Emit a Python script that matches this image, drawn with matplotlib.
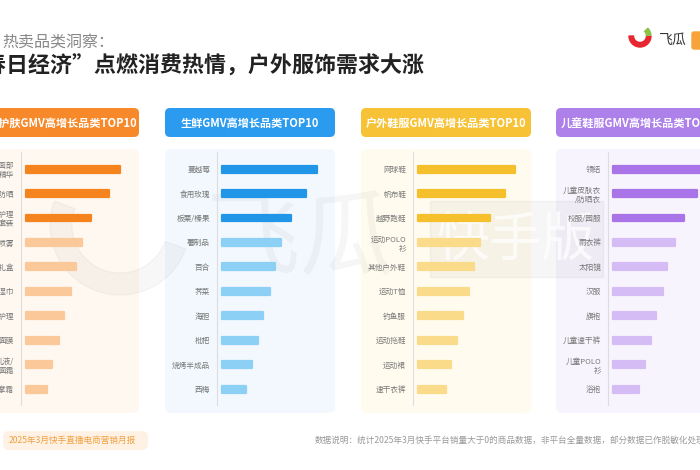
import matplotlib
matplotlib.use("Agg")
import matplotlib.pyplot as plt
from matplotlib.patches import FancyBboxPatch, Rectangle, Wedge

plt.rcParams['font.family'] = ['Noto Sans CJK SC', 'DejaVu Sans']

# ---- data (bar lengths, relative units) ----
beauty_labels = ["男士面部\n精华", "男士防晒", "面部护理\n套装", "防晒喷雾", "套装/礼盒",
                 "卸妆湿巾", "颈部护理", "面膜", "乳液/\n面霜", "按摩霜"]
beauty_values = [94, 83, 65, 56, 50, 45, 38, 33, 26, 21]

fresh_labels = ["蔓越莓", "食用玫瑰", "板栗/榛果", "薯制品", "百合",
                "荠菜", "海胆", "枇杷", "烧烤半成品", "西梅"]
fresh_values = [95, 84, 69, 59, 53, 48, 41, 36, 30, 24]

outdoor_labels = ["网球鞋", "帆布鞋", "越野跑鞋", "运动POLO\n衫", "其他户外鞋",
                  "运动T恤", "钓鱼服", "运动拖鞋", "运动裙", "速干衣裤"]
outdoor_values = [97, 87, 72, 62, 56, 51, 45, 39, 33, 28]

kids_labels = ["领结", "儿童皮肤衣\n/防晒衣", "校服/园服", "雨衣裤", "太阳镜",
               "汉服", "旗袍", "儿童速干裤", "儿童POLO\n衫", "浴袍"]
kids_values = [96, 84, 71, 62, 54, 50, 43, 38, 32, 26]

panel_titles = ["男士护肤GMV高增长品类TOP10", "生鲜GMV高增长品类TOP10",
                "户外鞋服GMV高增长品类TOP10", "儿童鞋服GMV高增长品类TOP10"]

W, H = 700, 470
fig = plt.figure(figsize=(7, 4.7), dpi=100)
fig.patch.set_facecolor("white")

# background layer in pixel coordinates
bg = fig.add_axes([0, 0, 1, 1], zorder=0)
bg.set_xlim(0, W)
bg.set_ylim(H, 0)
bg.axis("off")

panels = [
    (21, beauty_labels, beauty_values, "#F7892B", "#F5841F", "#FBC89A", "#FFF8F1"),
    (217, fresh_labels, fresh_values, "#2A9BEF", "#2196E8", "#8DD0F6", "#F2F8FE"),
    (413, outdoor_labels, outdoor_values, "#F7C236", "#F5C02C", "#FADB8A", "#FFFBEF"),
    (608, kids_labels, kids_values, "#AE80EA", "#A874E8", "#D5BCF4", "#F8F4FE"),
]

# titles
fig.text(2 / W, 1 - 42 / H, "热卖品类洞察：", fontsize=11.5, color="#888888",
         va="center", ha="left")
fig.text(425 / W, 1 - 66 / H, "“春日经济”点燃消费热情，户外服饰需求大涨", fontsize=15.8,
         fontweight="bold", color="#222222", va="center", ha="right")

# logo top right
bg.add_patch(Wedge((640, 36), 11, 0, 180, width=4.5, color="#E8262F"))
bg.add_patch(Wedge((640, 36), 11, -45, -5, width=4.5, color="#8BC34A"))
bg.text(658, 40, "飞瓜", fontsize=10, color="#333333", va="center", ha="left")
bg.add_patch(FancyBboxPatch((692, 32), 14, 17, boxstyle="round,pad=0,rounding_size=2",
                            color="#F7A23B"))

for i, (ax_x, labels, values, head_c, dark_c, light_c, card_c) in enumerate(panels):
    left = ax_x - 52
    # header
    bg.add_patch(FancyBboxPatch((left, 108), 170, 29,
                                boxstyle="round,pad=0,rounding_size=5",
                                facecolor=head_c, edgecolor="none"))
    # card
    bg.add_patch(FancyBboxPatch((left, 149), 170, 264,
                                boxstyle="round,pad=0,rounding_size=6",
                                facecolor=card_c, edgecolor="none"))
    shift = 3 if i == 0 else 0
    bg.text(left + 85 + shift, 123, panel_titles[i], fontsize=8, fontweight="bold",
            color="white", ha="center", va="center")

# watermark, between the cards and the bars
wm = fig.add_axes([0, 0, 1, 1], zorder=0.5)
wm.set_xlim(0, W)
wm.set_ylim(H, 0)
wm.axis("off")
wm.set_facecolor("none")
wm.add_patch(Wedge((120, 225), 70, 20, 200, width=22, color="#000000", alpha=0.03))
wm.text(300, 240, "飞瓜", fontsize=68, color="#000000", alpha=0.035,
        ha="center", va="center")
wm.add_patch(Rectangle((430, 201), 173, 76, color="#000000", alpha=0.035))
wm.text(516, 240, "快手版", fontsize=38, color="white", alpha=0.7,
        ha="center", va="center")

for i, (ax_x, labels, values, head_c, dark_c, light_c, card_c) in enumerate(panels):
    ax = fig.add_axes([ax_x / W, 1 - 405 / H, 110 / W, 253 / H], zorder=1)
    ax.set_facecolor("none")
    colors = [dark_c] * 3 + [light_c] * (len(values) - 3)
    ax.barh(range(len(values)), values, height=0.28, left=5, color=colors,
            edgecolor=colors, linewidth=1.6, joinstyle="round")
    ax.set_xlim(0, 110)
    ax.set_ylim(9.65, -0.7)
    ax.set_yticks(range(len(labels)))
    ax.set_yticklabels(labels, fontsize=5.5, color="#777777")
    ax.set_xticks([])
    ax.tick_params(axis="y", length=0, pad=5)
    for s in ["top", "right", "bottom"]:
        ax.spines[s].set_visible(False)
    ax.spines["left"].set_color("#DDDDDD")
    ax.spines["left"].set_linewidth(0.8)

# footer
bg.add_patch(FancyBboxPatch((3, 431), 145, 19, boxstyle="round,pad=0,rounding_size=6",
                            facecolor="#FFF2E4", edgecolor="none"))
bg.text(9, 440, "2025年3月快手直播电商营销月报", fontsize=6.2, color="#F0A040",
        ha="left", va="center")
bg.text(315, 440, "数据说明：统计2025年3月快手平台销量大于0的商品数据，非平台全量数据，部分数据已作脱敏化处理",
        fontsize=6.2, color="#999999", ha="left", va="center")

fig.savefig("out.png", dpi=100)
